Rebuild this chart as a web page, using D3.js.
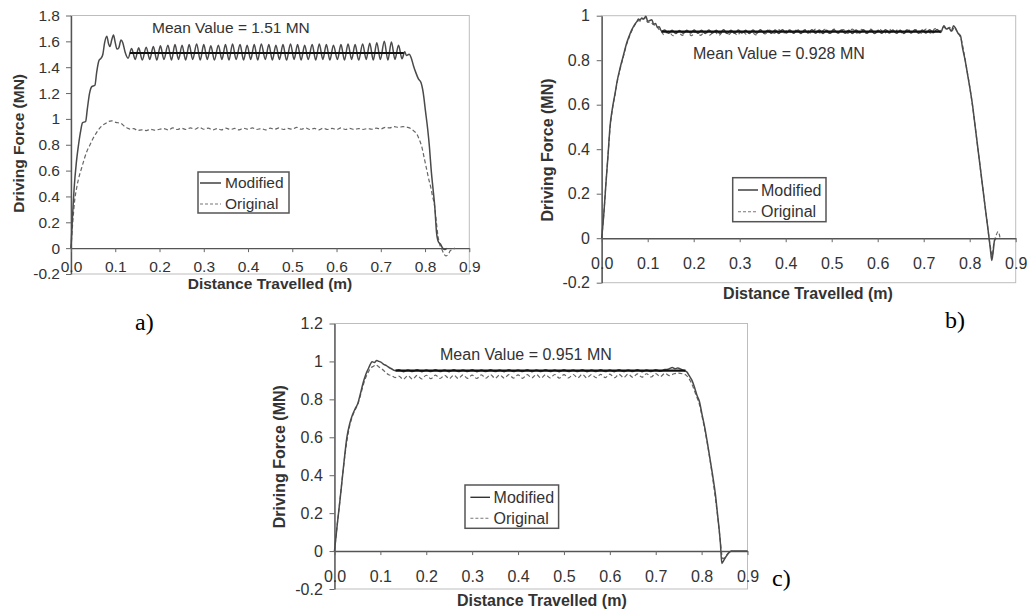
<!DOCTYPE html>
<html>
<head>
<meta charset="utf-8">
<script src="https://cdn.jsdelivr.net/npm/d3@7"></script>
<style>
body{margin:0;background:#fff;}
svg{display:block;font-family:"Liberation Sans",Arial,sans-serif;}
</style>
</head>
<body>
<svg id="drawing_region" width="1027" height="610"></svg>
<script>
// ---- data (x in m, y in MN) ----
const xTicks = [0, 0.1, 0.2, 0.3, 0.4, 0.5, 0.6, 0.7, 0.8, 0.9];
const xTickLabels = ["0.0","0.1","0.2","0.3","0.4","0.5","0.6","0.7","0.8","0.9"];

const aYTicks = [-0.2, 0, 0.2, 0.4, 0.6, 0.8, 1, 1.2, 1.4, 1.6, 1.8];
const aYLabels = ["-0.2","0","0.2","0.4","0.6","0.8","1","1.2","1.4","1.6","1.8"];
const bYTicks = [-0.2, 0, 0.2, 0.4, 0.6, 0.8, 1];
const bYLabels = ["-0.2","0","0.2","0.4","0.6","0.8","1"];
const cYTicks = [-0.2, 0, 0.2, 0.4, 0.6, 0.8, 1, 1.2];
const cYLabels = ["-0.2","0","0.2","0.4","0.6","0.8","1","1.2"];

const seriesNames = ["Modified", "Original"];
const meanValues = [1.51, 0.928, 0.951];
const meanLabels = ["Mean Value = 1.51 MN", "Mean Value = 0.928 MN", "Mean Value = 0.951 MN"];
const meanSpans = [[0.133, 0.752], [0.13, 0.737], [0.133, 0.765]];
const panelLetters = ["a)", "b)", "c)"];

const aModified = [
  [0,0],[0.003,0.22],[0.007,0.46],[0.012,0.66],[0.017,0.8],[0.022,0.91],[0.026,0.97],[0.033,0.98],
  [0.037,1.08],[0.042,1.2],[0.047,1.25],[0.054,1.26],[0.058,1.36],[0.063,1.45],[0.068,1.47],[0.072,1.5],
  [0.076,1.59],[0.081,1.64],[0.085,1.58],[0.088,1.56],[0.092,1.61],[0.096,1.65],[0.1,1.59],[0.104,1.54],
  [0.108,1.55],[0.113,1.61],[0.117,1.59],[0.122,1.52],[0.129,1.47],
  [0.137,1.545],[0.145,1.46],[0.153,1.55],[0.161,1.455],[0.170,1.555],[0.178,1.46],[0.186,1.56],[0.194,1.455],
  [0.202,1.565],[0.210,1.46],[0.219,1.57],[0.227,1.455],[0.235,1.575],[0.243,1.46],[0.251,1.57],[0.259,1.455],
  [0.267,1.575],[0.275,1.46],[0.284,1.58],[0.292,1.455],[0.300,1.575],[0.308,1.46],[0.316,1.565],[0.324,1.455],
  [0.333,1.57],[0.341,1.46],[0.349,1.575],[0.357,1.455],[0.365,1.58],[0.373,1.46],[0.382,1.575],[0.390,1.455],
  [0.398,1.57],[0.406,1.46],[0.414,1.575],[0.422,1.455],[0.430,1.58],[0.439,1.46],[0.447,1.575],[0.455,1.455],
  [0.463,1.57],[0.471,1.46],[0.479,1.575],[0.487,1.455],[0.496,1.58],[0.504,1.46],[0.512,1.575],[0.520,1.455],
  [0.528,1.57],[0.536,1.46],[0.545,1.575],[0.553,1.455],[0.561,1.58],[0.569,1.46],[0.577,1.575],[0.585,1.455],
  [0.593,1.57],[0.602,1.46],[0.610,1.575],[0.618,1.455],[0.626,1.58],[0.634,1.46],[0.642,1.575],[0.650,1.455],
  [0.659,1.58],[0.667,1.46],[0.675,1.585],[0.683,1.455],[0.691,1.59],[0.699,1.46],[0.708,1.6],[0.716,1.455],
  [0.724,1.595],[0.732,1.46],[0.740,1.57],[0.748,1.465],
  [0.754,1.52],[0.758,1.49],[0.764,1.5],[0.769,1.47],[0.774,1.41],[0.779,1.36],[0.785,1.31],[0.791,1.28],
  [0.796,1.2],[0.801,1.06],[0.806,0.92],[0.81,0.78],[0.814,0.6],[0.818,0.46],[0.822,0.32],[0.826,0.12],
  [0.83,0.05],[0.835,0.03],[0.84,0],[0.845,-0.01],[0.849,0]
];
const aOriginal = [
  [0,0],[0.004,0.2],[0.008,0.36],[0.013,0.47],[0.018,0.55],[0.024,0.62],[0.03,0.69],[0.036,0.75],
  [0.043,0.8],[0.05,0.85],[0.057,0.89],[0.064,0.925],[0.071,0.95],[0.078,0.965],[0.085,0.98],[0.092,0.985],
  [0.099,0.975],[0.106,0.97],[0.113,0.965],[0.12,0.945],[0.127,0.93],[0.134,0.92],[0.142,0.925],[0.15,0.91],
  [0.16,0.915],[0.17,0.91],[0.18,0.92],[0.19,0.912],[0.2,0.92],[0.21,0.925],[0.22,0.915],[0.23,0.93],
  [0.24,0.918],[0.25,0.928],[0.26,0.918],[0.27,0.93],[0.28,0.92],[0.29,0.935],[0.3,0.92],[0.31,0.928],
  [0.32,0.915],[0.33,0.925],[0.34,0.915],[0.35,0.928],[0.36,0.918],[0.37,0.926],[0.38,0.915],[0.39,0.928],
  [0.4,0.92],[0.41,0.93],[0.42,0.918],[0.43,0.925],[0.44,0.915],[0.45,0.928],[0.46,0.92],[0.47,0.93],
  [0.48,0.918],[0.49,0.926],[0.5,0.92],[0.51,0.935],[0.52,0.92],[0.53,0.93],[0.54,0.918],[0.55,0.926],
  [0.56,0.915],[0.57,0.928],[0.58,0.918],[0.59,0.926],[0.6,0.918],[0.61,0.93],[0.62,0.918],[0.63,0.926],
  [0.64,0.918],[0.65,0.925],[0.66,0.918],[0.67,0.925],[0.68,0.92],[0.69,0.928],[0.7,0.922],[0.71,0.935],
  [0.72,0.93],[0.73,0.94],[0.74,0.935],[0.75,0.94],[0.76,0.935],[0.768,0.925],[0.775,0.905],[0.781,0.885],
  [0.787,0.84],[0.793,0.78],[0.798,0.7],[0.803,0.62],[0.808,0.54],[0.813,0.47],[0.817,0.4],[0.821,0.34],
  [0.825,0.22],[0.829,0.1],[0.833,0.03],[0.837,0],[0.842,-0.04],[0.847,-0.06],[0.852,-0.05],[0.857,-0.02],
  [0.862,-0.01],[0.868,0]
];

const bModified = [
  [0,0],[0.005,0.12],[0.009,0.24],[0.014,0.38],[0.018,0.5],[0.023,0.58],[0.029,0.65],[0.034,0.71],
  [0.04,0.765],[0.047,0.82],[0.054,0.875],[0.06,0.91],[0.065,0.935],[0.071,0.958],[0.076,0.972],[0.08,0.985],
  [0.083,0.98],[0.087,0.99],[0.091,0.985],[0.096,0.998],[0.1,0.975],[0.104,0.978],[0.109,0.982],[0.113,0.962],
  [0.117,0.965],[0.121,0.948],[0.125,0.95],[0.13,0.93],
  [0.137,0.936],[0.145,0.921],[0.153,0.935],[0.161,0.92],[0.169,0.934],[0.177,0.921],[0.185,0.935],[0.193,0.922],
  [0.201,0.936],[0.209,0.921],[0.217,0.935],[0.225,0.92],[0.233,0.936],[0.241,0.922],[0.249,0.935],[0.257,0.921],
  [0.265,0.937],[0.273,0.92],[0.281,0.935],[0.289,0.921],[0.297,0.936],[0.305,0.922],[0.313,0.935],[0.321,0.92],
  [0.329,0.936],[0.337,0.921],[0.345,0.937],[0.353,0.922],[0.361,0.935],[0.369,0.921],[0.377,0.936],[0.385,0.92],
  [0.393,0.937],[0.401,0.922],[0.409,0.936],[0.417,0.921],[0.425,0.935],[0.433,0.92],[0.441,0.936],[0.449,0.922],
  [0.457,0.937],[0.465,0.921],[0.473,0.936],[0.481,0.92],[0.489,0.935],[0.497,0.921],[0.505,0.937],[0.513,0.922],
  [0.521,0.936],[0.529,0.921],[0.537,0.935],[0.545,0.92],[0.553,0.936],[0.561,0.922],[0.569,0.937],[0.577,0.921],
  [0.585,0.936],[0.593,0.92],[0.601,0.935],[0.609,0.921],[0.617,0.937],[0.625,0.922],[0.633,0.936],[0.641,0.921],
  [0.649,0.935],[0.657,0.92],[0.665,0.936],[0.673,0.922],[0.681,0.937],[0.689,0.921],[0.697,0.936],[0.705,0.922],
  [0.713,0.937],[0.721,0.923],[0.729,0.938],[0.737,0.925],
  [0.744,0.955],[0.749,0.94],[0.755,0.945],[0.76,0.93],[0.765,0.955],[0.77,0.94],[0.775,0.92],[0.78,0.91],
  [0.784,0.86],[0.79,0.8],[0.795,0.74],[0.8,0.68],[0.806,0.6],[0.812,0.5],[0.818,0.4],[0.824,0.3],
  [0.83,0.2],[0.836,0.1],[0.841,0.02],[0.845,-0.05],[0.848,-0.1],[0.851,-0.06],[0.854,-0.01],[0.858,0]
];
const bOriginal = [
  [0,0],[0.005,0.12],[0.009,0.24],[0.014,0.38],[0.018,0.49],[0.023,0.575],[0.029,0.645],[0.034,0.705],
  [0.04,0.76],[0.047,0.815],[0.054,0.87],[0.06,0.905],[0.065,0.93],[0.071,0.955],[0.076,0.97],[0.08,0.978],
  [0.085,0.975],[0.09,0.985],[0.095,0.99],[0.1,0.97],[0.106,0.972],[0.112,0.96],[0.118,0.955],[0.124,0.94],
  [0.13,0.928],
  [0.135,0.915],[0.145,0.93],[0.155,0.91],[0.165,0.928],[0.175,0.912],[0.185,0.93],[0.195,0.91],[0.205,0.928],
  [0.215,0.912],[0.225,0.93],[0.235,0.913],[0.245,0.93],[0.255,0.912],[0.265,0.932],[0.275,0.914],[0.285,0.93],
  [0.295,0.913],[0.305,0.932],[0.315,0.915],[0.325,0.93],[0.335,0.914],[0.345,0.932],[0.355,0.918],[0.365,0.935],
  [0.375,0.92],[0.385,0.937],[0.395,0.921],[0.405,0.938],[0.415,0.92],[0.425,0.94],[0.435,0.922],[0.445,0.938],
  [0.455,0.921],[0.465,0.94],[0.475,0.922],[0.485,0.939],[0.495,0.92],[0.505,0.94],[0.515,0.922],[0.525,0.938],
  [0.535,0.921],[0.545,0.94],[0.555,0.922],[0.565,0.939],[0.575,0.92],[0.585,0.94],[0.595,0.922],[0.605,0.938],
  [0.615,0.921],[0.625,0.94],[0.635,0.922],[0.645,0.939],[0.655,0.92],[0.665,0.94],[0.675,0.922],[0.685,0.938],
  [0.695,0.921],[0.705,0.94],[0.715,0.922],[0.725,0.942],[0.735,0.93],
  [0.744,0.95],[0.75,0.938],[0.756,0.948],[0.762,0.932],[0.767,0.95],[0.772,0.93],[0.777,0.915],[0.782,0.89],
  [0.787,0.84],[0.792,0.78],[0.797,0.72],[0.803,0.64],[0.809,0.55],[0.815,0.45],[0.821,0.35],[0.827,0.25],
  [0.833,0.15],[0.838,0.07],[0.842,0],[0.846,-0.05],[0.849,-0.08],[0.852,-0.03],[0.857,0.01],[0.862,0.03],
  [0.866,0]
];

const cModified = [
  [0,0],[0.006,0.14],[0.012,0.27],[0.019,0.43],[0.027,0.6],[0.033,0.67],[0.039,0.717],[0.045,0.75],
  [0.051,0.78],[0.057,0.835],[0.062,0.884],[0.068,0.93],[0.074,0.963],[0.078,0.985],[0.082,0.998],[0.087,0.995],
  [0.092,1.005],[0.097,1],[0.101,0.996],[0.107,0.985],[0.113,0.978],[0.119,0.968],[0.125,0.96],[0.131,0.952],
  [0.14,0.956],[0.15,0.946],[0.16,0.955],[0.17,0.947],[0.18,0.956],[0.19,0.946],[0.2,0.955],[0.21,0.947],
  [0.22,0.956],[0.23,0.947],[0.24,0.955],[0.25,0.946],[0.26,0.956],[0.27,0.947],[0.28,0.955],[0.29,0.947],
  [0.3,0.956],[0.31,0.946],[0.32,0.955],[0.33,0.947],[0.34,0.956],[0.35,0.947],[0.36,0.955],[0.37,0.946],
  [0.38,0.956],[0.39,0.947],[0.4,0.955],[0.41,0.947],[0.42,0.956],[0.43,0.946],[0.44,0.955],[0.45,0.947],
  [0.46,0.956],[0.47,0.947],[0.48,0.955],[0.49,0.946],[0.5,0.956],[0.51,0.947],[0.52,0.955],[0.53,0.947],
  [0.54,0.956],[0.55,0.946],[0.56,0.955],[0.57,0.947],[0.58,0.956],[0.59,0.947],[0.6,0.955],[0.61,0.946],
  [0.62,0.956],[0.63,0.947],[0.64,0.955],[0.65,0.947],[0.66,0.956],[0.67,0.946],[0.68,0.955],[0.69,0.947],
  [0.7,0.956],[0.71,0.948],[0.72,0.957],
  [0.725,0.958],[0.73,0.962],[0.736,0.968],[0.742,0.962],[0.748,0.965],[0.756,0.958],[0.762,0.952],[0.768,0.944],
  [0.773,0.925],[0.779,0.9],[0.785,0.86],[0.79,0.82],[0.795,0.79],[0.801,0.72],[0.807,0.65],[0.812,0.58],
  [0.818,0.49],[0.824,0.4],[0.83,0.3],[0.834,0.21],[0.838,0.12],[0.841,0.04],[0.844,-0.065],[0.848,-0.05],
  [0.853,-0.03],[0.859,-0.01],[0.865,0],[0.9,0]
];
const cOriginal = [
  [0,0],[0.006,0.14],[0.012,0.27],[0.019,0.43],[0.027,0.58],[0.033,0.66],[0.039,0.71],[0.045,0.745],
  [0.051,0.775],[0.057,0.825],[0.062,0.87],[0.068,0.915],[0.074,0.945],[0.079,0.965],[0.085,0.975],[0.09,0.982],
  [0.095,0.975],[0.1,0.965],[0.106,0.955],[0.112,0.94],[0.118,0.93],[0.125,0.925],[0.132,0.915],
  [0.14,0.922],[0.15,0.906],[0.16,0.925],[0.17,0.907],[0.18,0.926],[0.19,0.908],[0.2,0.927],[0.21,0.909],
  [0.22,0.928],[0.23,0.91],[0.24,0.927],[0.25,0.909],[0.26,0.928],[0.27,0.91],[0.28,0.929],[0.29,0.911],
  [0.3,0.928],[0.31,0.91],[0.32,0.929],[0.33,0.912],[0.34,0.93],[0.35,0.911],[0.36,0.929],[0.37,0.912],
  [0.38,0.93],[0.39,0.912],[0.4,0.929],[0.41,0.911],[0.42,0.93],[0.43,0.913],[0.44,0.931],[0.45,0.912],
  [0.46,0.93],[0.47,0.913],[0.48,0.931],[0.49,0.912],[0.5,0.93],[0.51,0.913],[0.52,0.931],[0.53,0.914],
  [0.54,0.932],[0.55,0.913],[0.56,0.931],[0.57,0.914],[0.58,0.932],[0.59,0.915],[0.6,0.933],[0.61,0.914],
  [0.62,0.932],[0.63,0.915],[0.64,0.933],[0.65,0.916],[0.66,0.934],[0.67,0.917],[0.68,0.935],[0.69,0.918],
  [0.7,0.936],[0.71,0.92],[0.72,0.937],[0.73,0.925],
  [0.74,0.935],[0.75,0.938],[0.758,0.935],[0.765,0.93],[0.771,0.915],[0.777,0.89],[0.783,0.855],[0.789,0.815],
  [0.795,0.775],[0.801,0.71],[0.807,0.64],[0.813,0.56],[0.819,0.47],[0.825,0.37],[0.831,0.26],[0.836,0.16],
  [0.84,0.07],[0.843,0],[0.846,-0.04],[0.85,-0.035],[0.855,-0.02],[0.86,-0.005],[0.866,0]
];

// ---- one chart panel ----
class ForcePanel{
    constructor( config, series ){
        this.config = config;
        this.series = series;
        this.init();
        this.render();
    }

    init(){
        let self = this;
        const c = self.config;

        self.chart = d3.select('#drawing_region').append('g');

        self.xscale = d3.scaleLinear()
                        .domain([0, 0.9])
                        .range([c.left, c.right]);

        self.yscale = d3.scaleLinear()
                        .domain([c.yTicks[0], c.yTicks[c.yTicks.length - 1]])
                        .range([c.bottom, c.top]);

        self.line = d3.line()
                      .curve(d3.curveMonotoneX)
                      .x(d => self.xscale(d[0]))
                      .y(d => self.yscale(d[1]));
    }

    render(){
        let self = this;
        const c = self.config;
        const fs = c.fontSize + 'px';

        // light frame
        self.chart.append('rect')
            .attr('x', c.left).attr('y', c.top)
            .attr('width', c.right - c.left).attr('height', c.bottom - c.top)
            .attr('fill', 'none').attr('stroke', '#bdbdbd').attr('stroke-width', 1);

        // y axis
        const yaxis = d3.axisLeft(self.yscale)
                        .tickValues(c.yTicks)
                        .tickFormat((d, i) => c.yLabels[i])
                        .tickSize(5).tickSizeOuter(0).tickPadding(c.yPad);
        const yg = self.chart.append('g')
            .attr('transform', `translate(${c.left},0)`)
            .call(yaxis);

        // x axis sits on y = 0
        const xaxis = d3.axisBottom(self.xscale)
                        .tickValues(xTicks)
                        .tickFormat((d, i) => xTickLabels[i])
                        .tickSize(4).tickSizeOuter(0).tickPadding(c.xPad);
        const xg = self.chart.append('g')
            .attr('transform', `translate(0,${self.yscale(0)})`)
            .call(xaxis);

        [xg, yg].forEach(g => {
            g.select('.domain').attr('stroke', '#555').attr('stroke-width', 1.4);
            g.selectAll('.tick line').attr('stroke', '#666');
            g.selectAll('text').attr('fill', '#333')
             .style('font-size', fs).style('font-family', '"Liberation Sans",Arial,sans-serif');
        });

        // curves
        self.chart.append('path')
            .datum(self.series[1])
            .attr('d', self.line)
            .attr('fill', 'none').attr('stroke', '#666')
            .attr('stroke-width', 1.2).attr('stroke-dasharray', '4,2.5');

        self.chart.append('path')
            .datum(self.series[0])
            .attr('d', self.line)
            .attr('fill', 'none').attr('stroke', '#4a4a4a').attr('stroke-width', 1.5);

        // mean line
        self.chart.append('line')
            .attr('x1', self.xscale(c.meanSpan[0])).attr('x2', self.xscale(c.meanSpan[1]))
            .attr('y1', self.yscale(c.mean)).attr('y2', self.yscale(c.mean))
            .attr('stroke', '#111').attr('stroke-width', 2.2);

        self.chart.append('text')
            .attr('x', c.meanText[0]).attr('y', c.meanText[1]).attr('dy', '0.35em')
            .attr('fill', '#333').style('font-size', fs)
            .text(c.meanLabel);

        // axis titles
        self.chart.append('text')
            .attr('x', c.xTitle[0]).attr('y', c.xTitle[1]).attr('dy', '0.35em')
            .attr('text-anchor', 'middle').attr('font-weight', 'bold')
            .attr('fill', '#333').style('font-size', fs)
            .text('Distance Travelled (m)');

        self.chart.append('text')
            .attr('transform', `translate(${c.yTitle[0]},${c.yTitle[1]}) rotate(-90)`)
            .attr('dy', '0.35em')
            .attr('text-anchor', 'middle').attr('font-weight', 'bold')
            .attr('fill', '#333').style('font-size', fs)
            .text('Driving Force (MN)');

        // legend
        const L = c.legend;
        const lg = self.chart.append('g');
        lg.append('rect')
            .attr('x', L.x).attr('y', L.y).attr('width', L.w).attr('height', L.h)
            .attr('fill', '#fff').attr('stroke', '#555').attr('stroke-width', 1.5);
        seriesNames.forEach((name, i) => {
            const ry = i == 0 ? L.row1 : L.row2;
            lg.append('line')
              .attr('x1', L.lineX0).attr('x2', L.lineX1).attr('y1', ry).attr('y2', ry)
              .attr('stroke', i == 0 ? '#333' : '#777')
              .attr('stroke-width', i == 0 ? 1.4 : 1.1)
              .attr('stroke-dasharray', i == 0 ? null : '3,2');
            lg.append('text')
              .attr('x', L.textX).attr('y', ry).attr('dy', '0.35em')
              .attr('fill', '#333').style('font-size', fs)
              .text(name);
        });

        // panel letter
        self.chart.append('text')
            .attr('x', c.letterPos[0]).attr('y', c.letterPos[1])
            .attr('fill', '#000').style('font-size', '24px')
            .style('font-family', '"Liberation Serif","Times New Roman",serif')
            .text(c.letter);
    }
}

new ForcePanel({
    left: 71, right: 469.3, top: 15.5, bottom: 274,
    yTicks: aYTicks, yLabels: aYLabels, fontSize: 15.5, xPad: 9, yPad: 6,
    xTitle: [270, 284], yTitle: [18.3, 143.3],
    mean: meanValues[0], meanSpan: meanSpans[0], meanLabel: meanLabels[0], meanText: [152, 28],
    legend: {x: 198, y: 172, w: 91, h: 41, row1: 183, row2: 204, lineX0: 200, lineX1: 221, textX: 225},
    letter: panelLetters[0], letterPos: [135, 330]
}, [aModified, aOriginal]);

new ForcePanel({
    left: 601.7, right: 1015.7, top: 15.7, bottom: 282.7,
    yTicks: bYTicks, yLabels: bYLabels, fontSize: 16, xPad: 15.5, yPad: 6.7,
    xTitle: [808, 293.3], yTitle: [547, 150],
    mean: meanValues[1], meanSpan: meanSpans[1], meanLabel: meanLabels[1], meanText: [693, 53],
    legend: {x: 732.7, y: 177.7, w: 93.3, h: 44, row1: 190, row2: 211.7, lineX0: 738, lineX1: 758, textX: 761},
    letter: panelLetters[1], letterPos: [945, 328]
}, [bModified, bOriginal]);

new ForcePanel({
    left: 334.5, right: 747.5, top: 323.5, bottom: 589,
    yTicks: cYTicks, yLabels: cYLabels, fontSize: 16, xPad: 15.4, yPad: 6.7,
    xTitle: [541.8, 600], yTitle: [279.3, 456.7],
    mean: meanValues[2], meanSpan: meanSpans[2], meanLabel: meanLabels[2], meanText: [440, 354],
    legend: {x: 465, y: 485, w: 93.6, h: 43.3, row1: 497.3, row2: 518.3, lineX0: 470.4, lineX1: 490, textX: 493.6},
    letter: panelLetters[2], letterPos: [772, 586]
}, [cModified, cOriginal]);
</script>
</body>
</html>
